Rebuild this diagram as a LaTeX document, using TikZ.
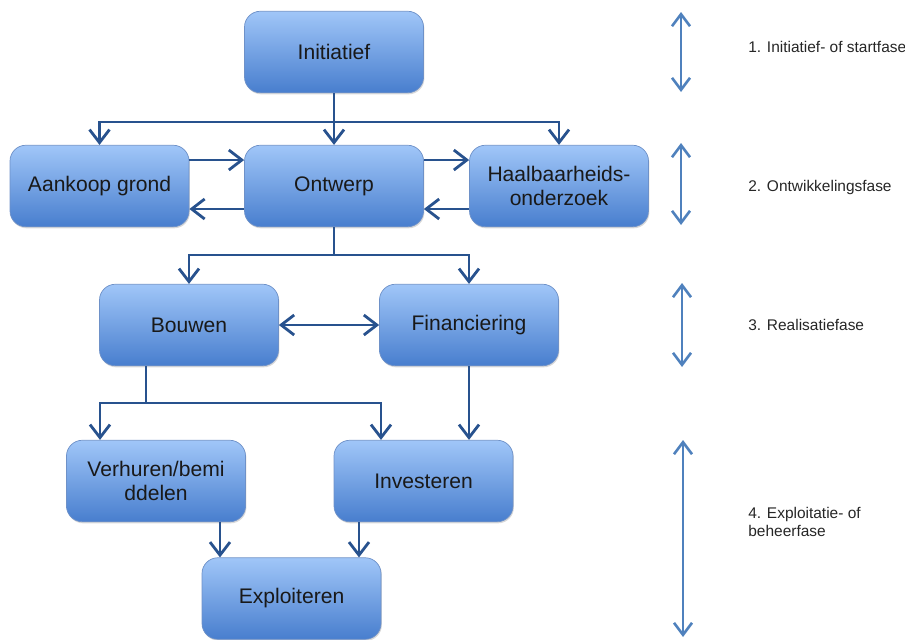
\documentclass[tikz,border=0pt]{standalone}
\usepackage{fontspec}
\setmainfont{Liberation Sans}
\usetikzlibrary{arrows.meta,shadows}

\definecolor{blokboven}{RGB}{160,198,248}
\definecolor{blokonder}{RGB}{72,126,206}
\definecolor{blokrand}{RGB}{110,145,200}
\definecolor{lijnblauw}{RGB}{40,82,142}
\definecolor{faseblauw}{RGB}{79,129,189}

\begin{document}
\begin{tikzpicture}[
        blok/.style={rounded corners=9pt, draw=blokrand, line width=0.4pt,
        top color=blokboven, bottom color=blokonder, align=center,
        minimum width=3.58cm, minimum height=1.63cm, inner sep=0pt,
        font=\fontsize{12}{14}\selectfont, text=black!90,
        drop shadow={shadow xshift=0.5pt, shadow yshift=-0.9pt, opacity=0.3}},
        pijl/.style={line width=1.6pt, draw=lijnblauw,
        -{Straight Barb[length=2.6mm, width=4mm, line width=1.6pt]}},
        lijn/.style={line width=1.6pt, draw=lijnblauw},
        fasepijl/.style={line width=1.5pt, draw=faseblauw,
        {Straight Barb[length=2.4mm, width=3.6mm]}-{Straight Barb[length=2.4mm, width=3.6mm]}},
        fase/.style={anchor=west, align=left, inner sep=0pt,
        font=\fontsize{8.8}{10.2}\selectfont, text=black!85}
    ]
        \useasboundingbox (0,0) rectangle (18.1,-12.78);
        \node[blok] (init) at (6.68,-1.04) {Initiatief};
        \node[blok] (aankoop) at (1.99,-3.72) {Aankoop grond};
        \node[blok] (ontwerp) at (6.68,-3.72) {Ontwerp};
        \node[blok] (haalb) at (11.18,-3.72) {Haalbaarheids-\\onderzoek};
        \node[blok] (bouwen) at (3.78,-6.5) {Bouwen};
        \node[blok] (fin) at (9.38,-6.5) {Financiering};
        \node[blok] (verhuur) at (3.12,-9.62) {Verhuren/bemi\\ddelen};
        \node[blok] (invest) at (8.47,-9.62) {Investeren};
        \node[blok] (exploit) at (5.83,-11.97) {Exploiteren};
        \coordinate (splits1) at (6.68,-2.44);
        \coordinate (splits2) at (6.68,-5.1);
        \coordinate (splits3) at (2.92,-8.06);
        % eerste splitsing
        \draw[lijn] (init.south) -- (splits1);
        \draw[pijl] (splits1) -| (aankoop.north);
        \draw[pijl] (splits1) -- (ontwerp.north);
        \draw[pijl] (splits1) -| (haalb.north);
        \draw[pijl] ([yshift=0.52cm]aankoop.east) -- ([yshift=0.52cm]ontwerp.west);
        \draw[pijl] ([yshift=-0.46cm]ontwerp.west) -- ([yshift=-0.46cm]aankoop.east);
        \draw[pijl] ([yshift=0.52cm]ontwerp.east) -- ([yshift=0.52cm]haalb.west);
        \draw[pijl] ([yshift=-0.46cm]haalb.west) -- ([yshift=-0.46cm]ontwerp.east);
        % tweede splitsing
        \draw[lijn] (ontwerp.south) -- (splits2);
        \draw[pijl] (splits2) -| (bouwen.north);
        \draw[pijl] (splits2) -| (fin.north);
        \draw[pijl, {Straight Barb[length=2.6mm, width=4mm, line width=1.6pt]}-{Straight Barb[length=2.6mm, width=4mm, line width=1.6pt]}] (bouwen) -- (fin);
        % derde splitsing
        \draw[lijn] ([xshift=-0.86cm]bouwen.south) -- (splits3);
        \draw[pijl] (splits3) -| ([xshift=-1.12cm]verhuur.north);
        \draw[pijl] (splits3) -| ([xshift=-0.85cm]invest.north);
        \draw[pijl] (fin.south) -- (invest.north -| fin.south);
        \draw[pijl] ([xshift=1.28cm]verhuur.south) -- ([xshift=1.28cm]verhuur.south |- exploit.north);
        \draw[pijl] ([xshift=-1.29cm]invest.south) -- ([xshift=-1.29cm]invest.south |- exploit.north);
        % fasen
        \coordinate (f1a) at (13.62,-0.24);
        \coordinate (f1b) at (13.62,-1.84);
        \coordinate (f2a) at (13.62,-2.86);
        \coordinate (f2b) at (13.62,-4.5);
        \coordinate (f3a) at (13.64,-5.66);
        \coordinate (f3b) at (13.64,-7.34);
        \coordinate (f4a) at (13.66,-8.8);
        \coordinate (f4b) at (13.66,-12.74);
        \draw[fasepijl] (f1a) -- (f1b);
        \draw[fasepijl] (f2a) -- (f2b);
        \draw[fasepijl] (f3a) -- (f3b);
        \draw[fasepijl] (f4a) -- (f4b);
        \node[fase] (fase1) at (14.96,-0.94) {1. Initiatief- of startfase};
        \node[fase] (fase2) at (14.96,-3.74) {2. Ontwikkelingsfase};
        \node[fase] (fase3) at (14.96,-6.5) {3. Realisatiefase};
        \node[fase] (fase4) at (14.96,-10.43) {4. Exploitatie- of\\beheerfase};
    \end{tikzpicture}
\end{document}
